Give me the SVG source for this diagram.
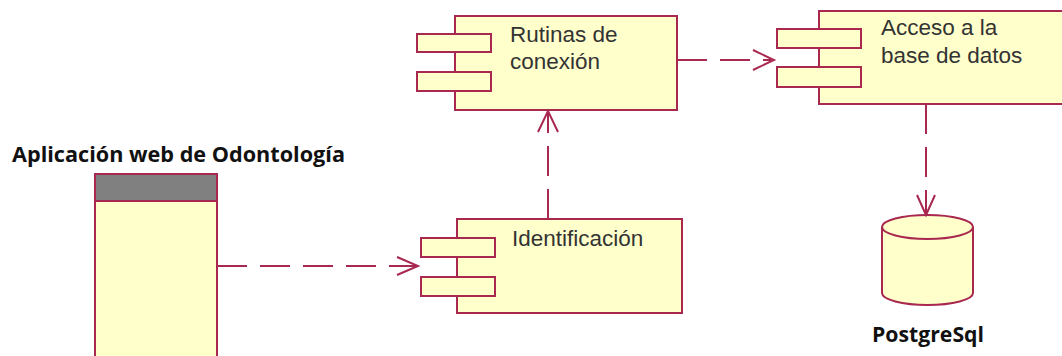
<svg xmlns="http://www.w3.org/2000/svg" width="1062" height="356" viewBox="0 0 1062 356">
<defs>
<style>
.box{fill:#ffffcc;stroke:#a8284f;stroke-width:2}
.lbl{font-family:"Liberation Sans",Arial,sans-serif;font-size:22.5px;fill:#333333}
.bold{font-family:"Open Sans","Liberation Sans",sans-serif;font-weight:700;font-size:21px;fill:#111111}
.dep{fill:none;stroke:#a8284f;stroke-width:2;stroke-dasharray:30 13}
.head{fill:none;stroke:#a8284f;stroke-width:2;stroke-linejoin:miter}
</style>
</defs>
<rect width="1062" height="356" fill="#ffffff"/>
<g id="app">
<text class="bold" x="12" y="162" textLength="333" lengthAdjust="spacingAndGlyphs">Aplicación web de Odontología</text>
<rect class="box" x="95" y="174" width="122" height="200"/>
<rect x="95" y="174" width="122" height="27" fill="#808080" stroke="#a8284f" stroke-width="2"/>
</g>
<g id="rutinas">
<rect class="box" x="455" y="16" width="222" height="94"/>
<rect class="box" x="417" y="34" width="74" height="18"/>
<rect class="box" x="417" y="72" width="74" height="19"/>
<text class="lbl" x="510" y="42">Rutinas de</text>
<text class="lbl" x="510" y="69">conexión</text>
</g>
<g id="acceso">
<rect class="box" x="819" y="11" width="260" height="93"/>
<rect class="box" x="777" y="29" width="84" height="19"/>
<rect class="box" x="777" y="67" width="84" height="20"/>
<text class="lbl" x="881" y="35">Acceso a la</text>
<text class="lbl" x="881" y="63">base de datos</text>
</g>
<g id="identificacion">
<rect class="box" x="457" y="219" width="225" height="94"/>
<rect class="box" x="421" y="238" width="74" height="19"/>
<rect class="box" x="421" y="277" width="74" height="19"/>
<text class="lbl" x="512" y="246">Identificación</text>
</g>
<g id="postgresql">
<path class="box" d="M882 227 V293 A45.5 12 0 0 0 973 293 V227"/>
<ellipse class="box" cx="927.5" cy="227" rx="45.5" ry="12"/>
<text class="bold" x="872" y="342" textLength="112" lengthAdjust="spacingAndGlyphs">PostgreSql</text>
</g>
<g id="connectors">
<line class="dep" x1="217" y1="266" x2="416" y2="266"/>
<polyline class="head" points="397,257 418,266 397,275"/>
<line class="dep" x1="548" y1="219" x2="548" y2="113"/>
<polyline class="head" points="538,132 548,111 558,132"/>
<line class="dep" x1="677" y1="60" x2="771" y2="60"/>
<polyline class="head" points="753,50 774,60 753,70"/>
<line class="dep" x1="926" y1="104" x2="926" y2="213"/>
<polyline class="head" points="917,195 926,215 935,195"/>
</g>
</svg>
